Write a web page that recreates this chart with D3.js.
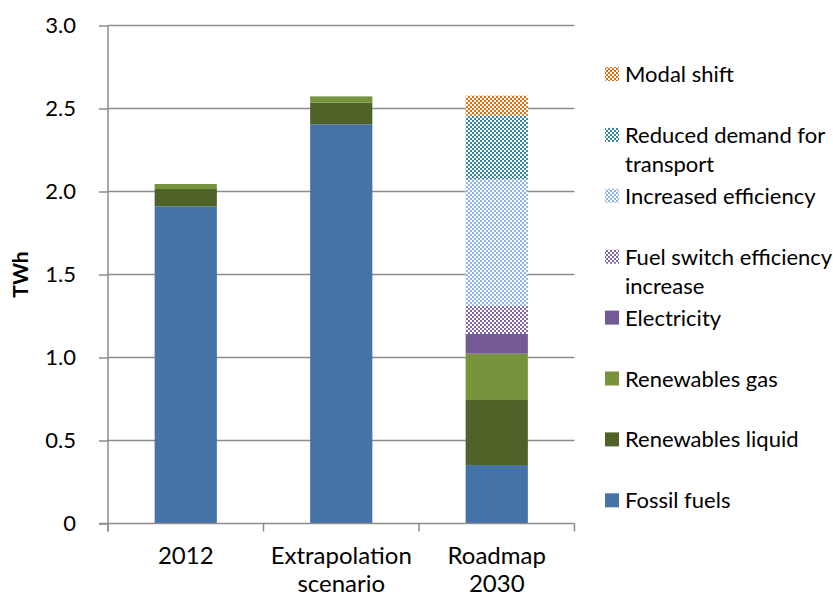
<!DOCTYPE html>
<html>
<head>
<meta charset="utf-8">
<script src="https://cdn.jsdelivr.net/npm/d3@7"></script>
<style>
  html, body { margin: 0; padding: 0; background: #fff; }
  svg { display: block; }
  text { font-family: Lato, "Open Sans", sans-serif; fill: #000; }
</style>
</head>
<body>
<svg id="chart" width="833" height="598"></svg>
<script>
// Categories along the x axis (each label may span two lines)
const categories = ["2012", "Extrapolation scenario", "Roadmap 2030"];
const categoryLines = [["2012"], ["Extrapolation", "scenario"], ["Roadmap", "2030"]];

// Stack series, bottom to top (TWh)
const seriesNames = [
  "Fossil fuels",
  "Renewables liquid",
  "Renewables gas",
  "Electricity",
  "Fuel switch efficiency increase",
  "Increased efficiency",
  "Reduced demand for transport",
  "Modal shift"
];
const fossilFuels       = [1.91, 2.405, 0.352];
const renewablesLiquid  = [0.105, 0.13, 0.392];
const renewablesGas     = [0.03, 0.038, 0.279];
const electricity       = [0, 0, 0.119];
const fuelSwitch        = [0, 0, 0.168];
const increasedEff      = [0, 0, 0.765];
const reducedDemand     = [0, 0, 0.382];
const modalShift        = [0, 0, 0.12];

const yTicks = [0, 0.5, 1.0, 1.5, 2.0, 2.5, 3.0];

// Legend text lines, top to bottom
const legendLines = [
  ["Modal shift"],
  ["Reduced demand for", "transport"],
  ["Increased efficiency"],
  ["Fuel switch efficiency", "increase"],
  ["Electricity"],
  ["Renewables gas"],
  ["Renewables liquid"],
  ["Fossil fuels"]
];

const seriesValues = [fossilFuels, renewablesLiquid, renewablesGas, electricity,
                      fuelSwitch, increasedEff, reducedDemand, modalShift];

// Fill style per series: solid colour or a checker pattern
const styles = [
  { color: "#4572A7" },
  { color: "#4F6228" },
  { color: "#77933C" },
  { color: "#735A94" },
  { color: "#8064A2", pattern: true },
  { color: "#8EB4E3", pattern: true },
  { color: "#31859C", pattern: true },
  { color: "#E46C0A", pattern: true }
];

const rows = categories.map((c, i) => {
  const r = { category: c };
  seriesNames.forEach((s, k) => { r[s] = seriesValues[k][i]; });
  return r;
});

const svg = d3.select("#chart");
const margin = { left: 108, right: 833 - 574.5, top: 25.5, bottom: 598 - 523.5 };
const W = 833, H = 598;

const x = d3.scaleBand().domain(categories)
  .range([margin.left, W - margin.right])
  .paddingInner(0.6).paddingOuter(0.3);
const y = d3.scaleLinear().domain([0, 3]).range([H - margin.bottom, margin.top]);

// checker patterns
const defs = svg.append("defs");
styles.forEach((st, k) => {
  if (!st.pattern) return;
  const p = defs.append("pattern")
    .attr("id", "pat" + k)
    .attr("patternUnits", "userSpaceOnUse")
    .attr("width", 4).attr("height", 4);
  p.append("rect").attr("width", 4).attr("height", 4).attr("fill", "#fff");
  p.append("rect").attr("x", 0).attr("y", 0).attr("width", 2).attr("height", 2).attr("fill", st.color);
  p.append("rect").attr("x", 2).attr("y", 2).attr("width", 2).attr("height", 2).attr("fill", st.color);
});
const fillOf = k => styles[k].pattern ? `url(#pat${k})` : styles[k].color;

const gridColor = "#8c8c8c";

// horizontal gridlines
svg.append("g").selectAll("line")
  .data(yTicks.filter(d => d > 0))
  .join("line")
  .attr("x1", margin.left).attr("x2", W - margin.right)
  .attr("y1", d => y(d)).attr("y2", d => y(d))
  .attr("stroke", gridColor).attr("stroke-width", 1.5);

// stacked bars
const stack = d3.stack().keys(seriesNames)(rows);
svg.append("g").selectAll("g")
  .data(stack)
  .join("g")
  .attr("fill", (d, k) => fillOf(k))
  .selectAll("rect")
  .data(d => d)
  .join("rect")
  .attr("x", d => x(d.data.category))
  .attr("width", x.bandwidth())
  .attr("y", d => y(d[1]))
  .attr("height", d => Math.max(0, y(d[0]) - y(d[1])));

// y axis
const yAxis = d3.axisLeft(y).tickValues(yTicks).tickSize(9)
  .tickFormat(d => d === 0 ? "0" : d.toFixed(1));
const gy = svg.append("g").attr("transform", `translate(${margin.left},0)`).call(yAxis);
gy.select(".domain").attr("stroke", gridColor).attr("stroke-width", 1.5).attr("d", `M0,${y(3)}V${y(0) + 8}`);
gy.selectAll(".tick line").attr("stroke", gridColor).attr("stroke-width", 1.5);
gy.selectAll(".tick text").attr("x", -32).attr("font-size", 22).attr("font-family", "Lato, sans-serif").attr("fill", "#000");

// x axis with ticks at category boundaries
const bounds = [margin.left].concat(categories.map(c => x(c) + x.bandwidth() / 2 + x.step() / 2));
const gx = svg.append("g");
gx.append("line")
  .attr("x1", margin.left - 9).attr("x2", W - margin.right)
  .attr("y1", y(0)).attr("y2", y(0))
  .attr("stroke", gridColor).attr("stroke-width", 1.5);
gx.selectAll("line.tk").data(bounds).join("line").attr("class", "tk")
  .attr("x1", d => d).attr("x2", d => d)
  .attr("y1", y(0)).attr("y2", y(0) + 8)
  .attr("stroke", gridColor).attr("stroke-width", 1.5);
gx.selectAll("text").data(categories).join("text")
  .attr("text-anchor", "middle")
  .attr("font-size", 24)
  .attr("x", d => x(d) + x.bandwidth() / 2)
  .attr("y", 564)
  .selectAll("tspan")
  .data((d, i) => categoryLines[i])
  .join("tspan")
  .attr("x", function () { return d3.select(this.parentNode).attr("x"); })
  .attr("dy", (d, j) => j === 0 ? 0 : 28)
  .text(d => d);

// y axis title
svg.append("text")
  .attr("transform", `translate(28,${(y(0) + y(3)) / 2}) rotate(-90)`)
  .attr("text-anchor", "middle")
  .attr("font-size", 21).attr("font-weight", "bold")
  .text("TWh");

// legend (top item = last series)
const legend = svg.append("g");
const legendTop = 74, legendStep = 60.9;
legendLines.forEach((lines, i) => {
  const k = seriesNames.length - 1 - i;
  const cy = legendTop + i * legendStep;
  legend.append("rect")
    .attr("x", 605).attr("y", cy - 7)
    .attr("width", 14).attr("height", 14)
    .attr("fill", fillOf(k));
  const t = legend.append("text").attr("font-size", 22);
  lines.forEach((ln, j) => {
    t.append("tspan").attr("x", 625).attr("y", cy + 8 + j * 29).text(ln);
  });
});
</script>
</body>
</html>
